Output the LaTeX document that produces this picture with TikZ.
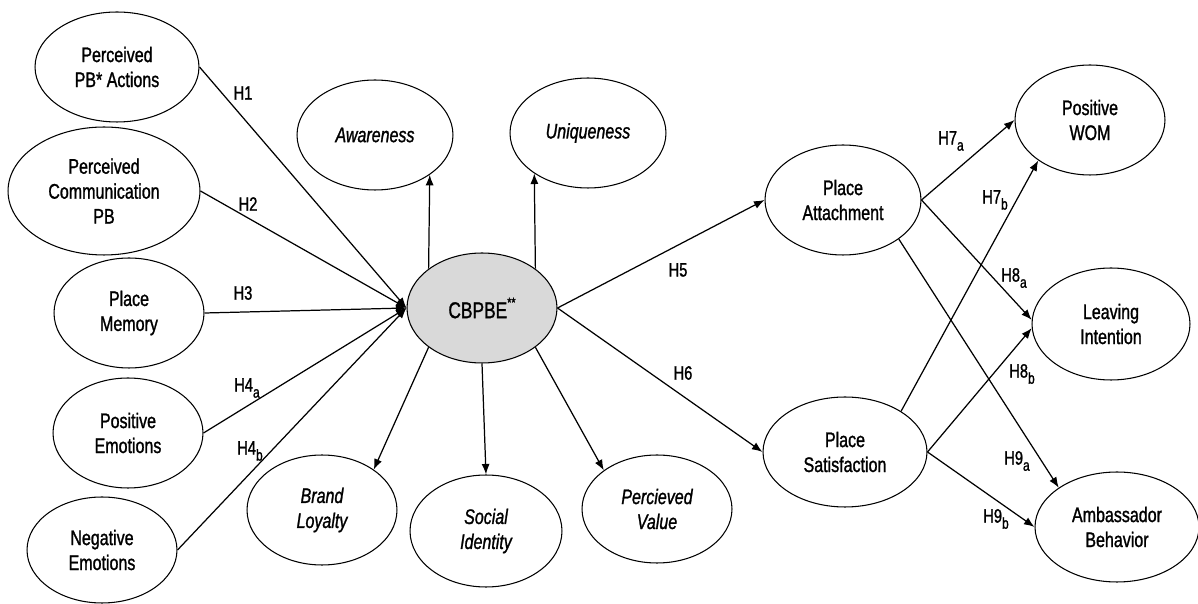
\documentclass[tikz,border=0pt]{standalone}
\usepackage{fontspec}
\setmainfont{Liberation Sans}[FakeStretch=0.76,FakeBold=1.2]
\usetikzlibrary{shapes.geometric,arrows.meta}
\newcommand\lowsub[1]{\raisebox{-0.6ex}{\fontsize{9pt}{9pt}\selectfont #1}}
\begin{document}
\begin{tikzpicture}[x=0.02cm,y=-0.02cm,
  ell/.style={ellipse, draw, line width=0.6pt, inner sep=0pt, align=center, fill=white,
     font=\fontsize{12pt}{14.2pt}\selectfont},
  hlab/.style={inner sep=0pt, font=\fontsize{11pt}{12pt}\selectfont},
  arr/.style={line width=0.7pt, -{Latex[length=6pt,width=4.6pt]}},
  ln/.style={line width=0.7pt}]
\useasboundingbox (0,0) rectangle (1198,604);
% left column
\node[ell, minimum width=3.28cm, minimum height=2.2cm] (pba) at (117,67) {Perceived\\PB* Actions};
\node[ell, minimum width=3.84cm, minimum height=2.56cm] (pcpb) at (104,191) {Perceived\\Communication\\PB};
\node[ell, minimum width=3.0cm, minimum height=2.2cm] (pm) at (129,313) {Place\\Memory};
\node[ell, minimum width=3.0cm, minimum height=2.2cm] (pe) at (128,433) {Positive\\Emotions};
\node[ell, minimum width=3.0cm, minimum height=2.12cm] (ne) at (102,550) {Negative\\Emotions};
% centre
\node[ell, minimum width=3.0cm, minimum height=2.2cm, fill=black!15, font=\fontsize{13pt}{15pt}\selectfont] (cb) at (482,308) {CBPBE\raisebox{0.9ex}{\fontsize{8pt}{8pt}\selectfont **}};
\node[ell, minimum width=3.12cm, minimum height=2.2cm] (aw) at (375,135) {\itshape Awareness};
\node[ell, minimum width=3.12cm, minimum height=2.2cm] (un) at (588,133) {\itshape Uniqueness};
\node[ell, minimum width=3.0cm, minimum height=2.2cm] (bl) at (322,510) {\itshape Brand\\\itshape Loyalty};
\node[ell, minimum width=3.04cm, minimum height=2.24cm] (si) at (486,531) {\itshape Social\\\itshape Identity};
\node[ell, minimum width=3.0cm, minimum height=2.16cm] (pv) at (657,509) {\itshape Percieved\\\itshape Value};
% right
\node[ell, minimum width=3.12cm, minimum height=2.2cm] (pa) at (843,200) {Place\\Attachment};
\node[ell, minimum width=3.28cm, minimum height=2.2cm] (ps) at (845,452) {Place\\Satisfaction};
\node[ell, minimum width=3.0cm, minimum height=2.2cm] (pw) at (1090,120) {Positive\\WOM};
\node[ell, minimum width=3.16cm, minimum height=2.24cm] (li) at (1111,324) {Leaving\\Intention};
\node[ell, minimum width=3.28cm, minimum height=2.2cm] (ab) at (1117,527) {Ambassador\\Behavior};
% antecedents
\draw[arr] (pba.east) -- (cb.west);
\draw[arr] (pcpb.east) -- (cb.west);
\draw[arr] (pm.east) -- (cb.west);
\draw[arr] (pe.east) -- (cb.west);
\draw[arr] (ne.east) -- (cb.west);
% dimensions
\draw[arr] (cb.north west) -- (aw.-36);
\draw[arr] (cb.north east) -- (un.217);
\draw[arr] (cb.south west) -- (bl.38);
\draw[arr] (cb.south) -- (si.north);
\draw[arr] (cb.south east) -- (pv.144);
% outcomes
\draw[arr] (cb.east) -- (pa.west);
\draw[arr] (cb.east) -- (ps.west);
\draw[arr] (pa.east) -- (pw.west);
\draw[arr] (pa.east) -- (li.177);
\draw[arr] (pa.-35) -- (ab.146);
\draw[arr] (ps.36) -- (pw.218);
\draw[arr] (ps.east) -- (li.183);
\draw[arr] (ps.east) -- (ab.west);
% labels
\node[hlab] (l1) at (243,93) {H1};
\node[hlab] (l2) at (248,204) {H2};
\node[hlab] (l3) at (243,293) {H3};
\node[hlab] (l4a) at (247,388) {H4\lowsub{a}};
\node[hlab] (l4b) at (250,451) {H4\lowsub{b}};
\node[hlab] (l5) at (678,270) {H5};
\node[hlab] (l6) at (683,373) {H6};
\node[hlab] (l7a) at (951,141) {H7\lowsub{a}};
\node[hlab] (l7b) at (995,200) {H7\lowsub{b}};
\node[hlab] (l8a) at (1014,278) {H8\lowsub{a}};
\node[hlab] (l8b) at (1022,374) {H8\lowsub{b}};
\node[hlab] (l9a) at (1017,461) {H9\lowsub{a}};
\node[hlab] (l9b) at (996,519) {H9\lowsub{b}};
\end{tikzpicture}
\end{document}
